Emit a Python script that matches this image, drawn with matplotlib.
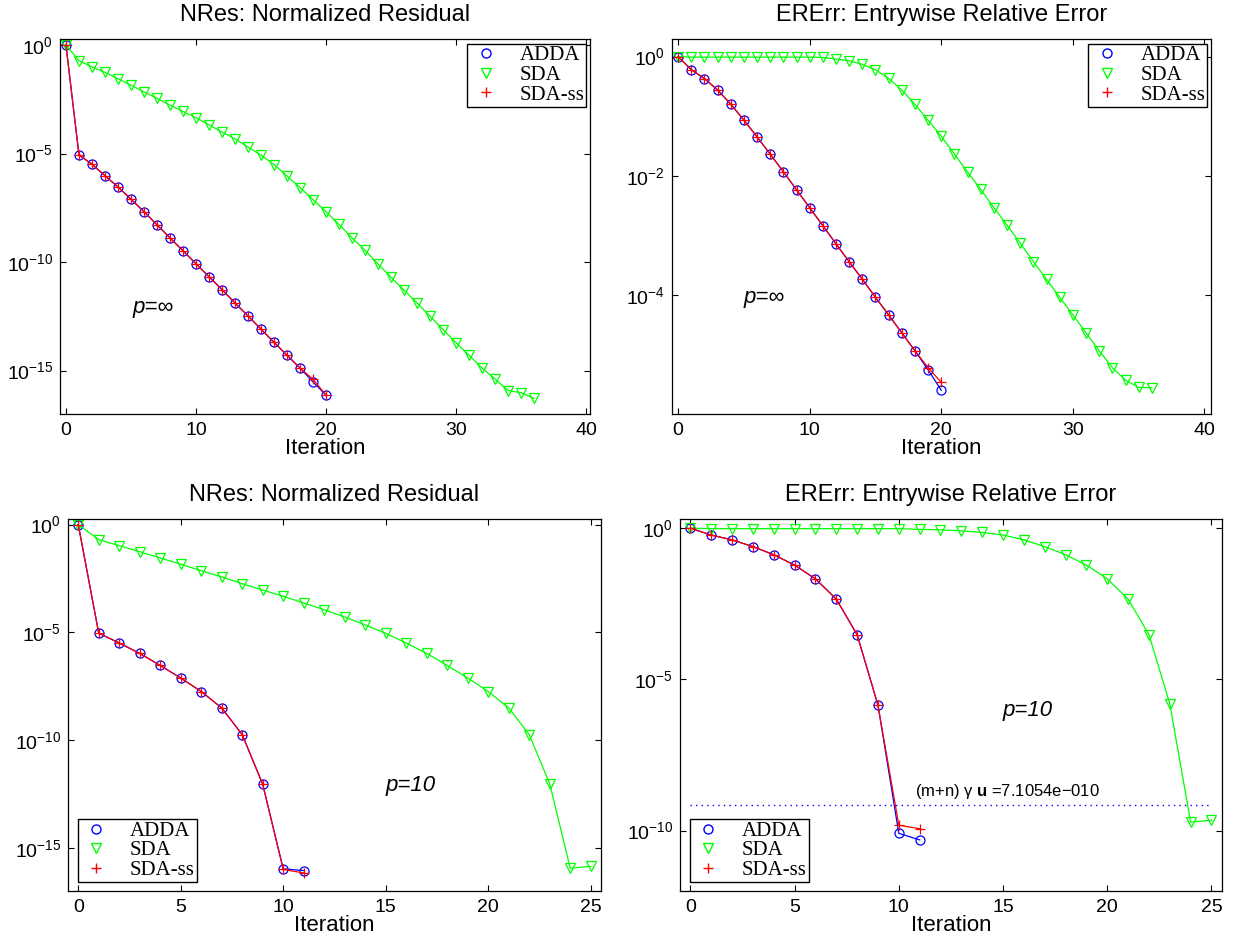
"""Convergence history of ADDA, SDA and SDA-ss (p = inf and p = 10)."""

import matplotlib

matplotlib.use("Agg")
import matplotlib.pyplot as plt
from matplotlib.lines import Line2D

plt.rcParams["font.family"] = ["Liberation Sans", "DejaVu Sans"]
plt.rcParams["mathtext.fontset"] = "custom"
plt.rcParams["mathtext.rm"] = "Liberation Sans"
plt.rcParams["mathtext.it"] = "Liberation Sans:italic"
plt.rcParams["mathtext.bf"] = "Liberation Sans:bold"

# ---- p = inf : normalized residual
nres_inf_adda = [1.0, 8.7e-6, 3.2e-6, 9.5e-7, 2.9e-7, 7.9e-8, 2.1e-8, 5.2e-9, 1.3e-9,
                 3.3e-10, 8.3e-11, 2.1e-11, 5.4e-12, 1.3e-12, 3.3e-13, 8.1e-14, 2.0e-14,
                 5.1e-15, 1.3e-15, 3.0e-16, 7.4e-17]
nres_inf_sdass = [1.0, 8.7e-6, 3.2e-6, 9.5e-7, 2.9e-7, 7.9e-8, 2.1e-8, 5.2e-9, 1.3e-9,
                  3.3e-10, 8.3e-11, 2.1e-11, 5.4e-12, 1.3e-12, 3.3e-13, 8.1e-14, 2.0e-14,
                  5.1e-15, 1.3e-15, 4.0e-16, 7.4e-17]
nres_inf_sda = [1.0, 0.19, 9.8e-2, 5.5e-2, 2.8e-2, 1.4e-2, 6.9e-3, 3.5e-3, 1.7e-3, 8.7e-4,
                4.5e-4, 2.1e-4, 9.8e-5, 4.7e-5, 2.0e-5, 8.5e-6, 3.1e-6, 9.3e-7, 2.7e-7,
                7.6e-8, 2.1e-8, 5.4e-9, 1.3e-9, 3.5e-10, 8.1e-11, 2.0e-11, 5.1e-12,
                1.3e-12, 3.2e-13, 7.8e-14, 1.9e-14, 5.1e-15, 1.3e-15, 4.1e-16, 1.2e-16,
                9.5e-17, 5.2e-17]

# ---- p = inf : entrywise relative error
ererr_inf_adda = [1.0, 0.605, 0.428, 0.276, 0.159, 8.6e-2, 4.5e-2, 2.3e-2, 1.17e-2, 5.8e-3,
                  2.9e-3, 1.45e-3, 7.2e-4, 3.6e-4, 1.83e-4, 9.1e-5, 4.6e-5, 2.3e-5,
                  1.15e-5, 5.5e-6, 2.5e-6]
ererr_inf_sdass = [1.0, 0.605, 0.428, 0.276, 0.159, 8.6e-2, 4.5e-2, 2.3e-2, 1.17e-2, 5.8e-3,
                   2.9e-3, 1.45e-3, 7.2e-4, 3.6e-4, 1.83e-4, 9.1e-5, 4.6e-5, 2.3e-5,
                   1.15e-5, 6.0e-6, 3.4e-6]
ererr_inf_sda = [1.0, 0.98, 0.98, 0.98, 0.98, 0.98, 0.98, 0.98, 0.98, 0.98, 0.98, 0.97,
                 0.91, 0.85, 0.74, 0.60, 0.43, 0.275, 0.158, 8.5e-2, 4.6e-2, 2.3e-2,
                 1.15e-2, 5.9e-3, 2.9e-3, 1.48e-3, 7.4e-4, 3.6e-4, 1.82e-4, 9.1e-5, 4.6e-5,
                 2.3e-5, 1.15e-5, 6.0e-6, 3.7e-6, 2.8e-6, 2.75e-6]

# ---- p = 10 : normalized residual
nres_10_adda = [1.0, 9.1e-6, 3.2e-6, 1.05e-6, 2.9e-7, 7.6e-8, 1.8e-8, 3.1e-9, 1.8e-10,
                8.9e-13, 1.07e-16, 8.9e-17]
nres_10_sdass = [1.0, 9.1e-6, 3.2e-6, 1.05e-6, 2.9e-7, 7.6e-8, 1.8e-8, 3.1e-9, 1.8e-10,
                 8.9e-13, 1.0e-16, 6.9e-17]
nres_10_sda = [1.0, 0.20, 0.105, 5.5e-2, 2.8e-2, 1.45e-2, 7.2e-3, 3.7e-3, 1.8e-3, 9.1e-4,
               4.7e-4, 2.3e-4, 1.12e-4, 5.1e-5, 2.2e-5, 8.9e-6, 3.2e-6, 1.05e-6, 2.9e-7,
               7.6e-8, 1.8e-8, 3.1e-9, 1.8e-10, 9.5e-13, 1.15e-16, 1.4e-16]

# ---- p = 10 : entrywise relative error
ererr_10_adda = [1.0, 0.59, 0.41, 0.245, 0.132, 6.0e-2, 2.1e-2, 4.5e-3, 3.0e-4, 1.4e-6,
                 8.1e-11, 4.9e-11]
ererr_10_sdass = [1.0, 0.59, 0.41, 0.245, 0.132, 6.0e-2, 2.1e-2, 4.5e-3, 3.0e-4, 1.4e-6,
                  1.5e-10, 1.15e-10]
ererr_10_sda = [1.0, 0.96, 0.96, 0.96, 0.96, 0.96, 0.96, 0.96, 0.96, 0.96, 0.96, 0.91,
                0.88, 0.81, 0.72, 0.59, 0.41, 0.245, 0.132, 6.0e-2, 2.1e-2, 4.5e-3,
                3.0e-4, 1.55e-6, 1.9e-10, 2.2e-10]

tolerance = 7.1054e-10
tol_label = "(m+n) γ $\\mathbf{u}$ =7.1054e\u2212010"

titles = ["NRes: Normalized Residual", "ERErr: Entrywise Relative Error"]
series_names = ["ADDA", "SDA", "SDA-ss"]

panels = [
    # position, adda, sda, sdass, xlim, xticks, ylim, yticks, label, label xy,
    # legend loc + anchor, title
    ([0.0486, 0.561, 0.4295, 0.3977], nres_inf_adda, nres_inf_sda, nres_inf_sdass,
     (-0.46, 40.3), [0, 10, 20, 30, 40], (1e-17, 1.9), [1e-15, 1e-10, 1e-5, 1e0],
     "p=\u221e", (5.1, 8e-13), ("upper right", (0.993, 0.987)), titles[0]),
    ([0.5446, 0.561, 0.4368, 0.3977], ererr_inf_adda, ererr_inf_sda, ererr_inf_sdass,
     (-0.46, 40.5), [0, 10, 20, 30, 40], (1e-6, 1.98), [1e-4, 1e-2, 1e0],
     "p=\u221e", (5.0, 9e-5), ("upper right", (0.993, 0.987)), titles[1]),
    ([0.0551, 0.0551, 0.4319, 0.3945], nres_10_adda, nres_10_sda, nres_10_sdass,
     (-0.5, 25.5), [0, 5, 10, 15, 20, 25], (1e-17, 1.8), [1e-15, 1e-10, 1e-5, 1e0],
     "p=10", (15.0, 8e-13), ("lower left", (0.018, 0.024)), titles[0]),
    ([0.551, 0.0551, 0.4392, 0.3945], ererr_10_adda, ererr_10_sda, ererr_10_sdass,
     (-0.5, 25.5), [0, 5, 10, 15, 20, 25], (1e-12, 2.0), [1e-10, 1e-5, 1e0],
     "p=10", (15.0, 9.5e-7), ("lower left", (0.018, 0.024)), titles[1]),
]

fig = plt.figure(figsize=(12.34, 9.43), dpi=100)

for idx, (pos, adda, sda, sdass, xlim, xticks, ylim, yticks, plabel, pxy,
          (loc, anchor), title) in enumerate(panels):
    ax = fig.add_axes(pos)
    ax.semilogy(range(len(adda)), adda, "-o", color="b", lw=0.9, ms=6.5,
                mfc="none", mew=0.9)
    ax.semilogy(range(len(sda)), sda, "-v", color="#00ff00", lw=0.9, ms=7.5,
                mfc="none", mew=0.9)
    ax.semilogy(range(len(sdass)), sdass, "-+", color="r", lw=0.9, ms=7, mew=0.9)

    if idx == 3:
        ax.hlines(tolerance, 0, 25, colors="b", linestyles=(0, (1, 3)), lw=1.0)
        ax.text(10.8, 1.9e-9, tol_label, fontsize=12, va="center", ha="left")

    ax.text(pxy[0], pxy[1], plabel, fontsize=16, style="italic",
            va="center", ha="left")

    ax.set_xlim(*xlim)
    ax.set_ylim(*ylim)
    ax.set_xticks(xticks)
    ax.set_yticks(yticks)
    ax.minorticks_off()
    ax.tick_params(direction="in", top=True, right=True, length=4, width=0.8,
                   labelsize=14)
    ax.tick_params(axis="y", pad=5)
    ax.tick_params(axis="x", pad=6)
    for sp in ax.spines.values():
        sp.set_linewidth(0.9)
    ax.set_title(title, fontsize=17, pad=13)
    ax.set_xlabel("Iteration", fontsize=16, labelpad=-1)

    handles = [
        Line2D([], [], ls="none", marker="o", color="b", mfc="none", ms=6.5),
        Line2D([], [], ls="none", marker="v", color="#00ff00", mfc="none", ms=7.5),
        Line2D([], [], ls="none", marker="+", color="r", ms=7),
    ]
    leg = ax.legend(handles, series_names, loc=loc, bbox_to_anchor=anchor,
                    fancybox=False, prop={"family": "Liberation Serif", "size": 15},
                    labelspacing=0.0, borderpad=0.1, handletextpad=0.8,
                    handlelength=1.6, borderaxespad=0.0, framealpha=1)
    leg.get_frame().set_edgecolor("black")
    leg.get_frame().set_linewidth(1.0)

fig.savefig("out.png", dpi=100)
